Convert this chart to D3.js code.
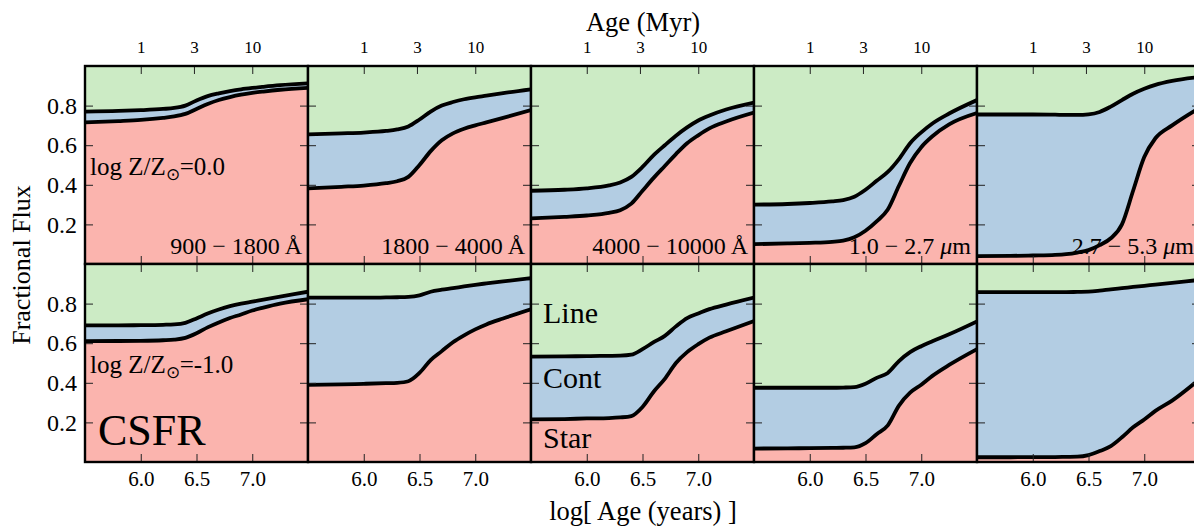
<!DOCTYPE html>
<html>
<head>
<meta charset="utf-8">
<script src="https://cdn.jsdelivr.net/npm/d3@7"></script>
<style>
  body { margin: 0; background: #fff; }
  svg { display: block; }
  svg text { font-family: "Liberation Serif", "Times New Roman", Tinos, serif !important; }
</style>
</head>
<body>
<svg id="chart" width="1194" height="531" font-family="Liberation Serif"></svg>
<script>
// Sample grid in log10(age / yr)
const logAge = [5.5, 5.8, 6.0, 6.2, 6.3, 6.4, 6.5, 6.6, 6.7, 6.8, 6.9, 7.0, 7.1, 7.25, 7.5];

const bandLabels = [
  ["900 \u2212 1800\u2009\u00c5"],
  ["1800 \u2212 4000\u2009\u00c5"],
  ["4000 \u2212 10000\u2009\u00c5"],
  ["1.0 \u2212 2.7 ", "\u03bc", "m"],
  ["2.7 \u2212 5.3 ", "\u03bc", "m"]
];
const metallicityLabels = ["=0.0", "=-1.0"];
const yTickValues = [0.2, 0.4, 0.6, 0.8];
const yTickLabels = ["0.2", "0.4", "0.6", "0.8"];
const logAgeTicks = [6.0, 6.5, 7.0];
const logAgeTickLabels = ["6.0", "6.5", "7.0"];
const ageMyrTicks = [1, 3, 10];
const ageMyrTickLabels = ["1", "3", "10"];
const componentLabels = ["Line", "Cont", "Star"];

// log Z/Zsun = 0.0 : stellar fraction and stellar+continuum fraction per band
const starZ0Band1 = [0.715, 0.722, 0.728, 0.738, 0.745, 0.758, 0.783, 0.808, 0.828, 0.843, 0.855, 0.864, 0.871, 0.880, 0.890];
const contZ0Band1 = [0.770, 0.773, 0.777, 0.783, 0.788, 0.800, 0.826, 0.848, 0.862, 0.873, 0.882, 0.889, 0.895, 0.903, 0.912];
const starZ0Band2 = [0.382, 0.390, 0.396, 0.408, 0.418, 0.440, 0.500, 0.570, 0.625, 0.660, 0.683, 0.700, 0.715, 0.738, 0.778];
const contZ0Band2 = [0.655, 0.660, 0.664, 0.672, 0.680, 0.695, 0.730, 0.770, 0.800, 0.818, 0.832, 0.842, 0.850, 0.863, 0.882];
const starZ0Band3 = [0.230, 0.238, 0.245, 0.258, 0.272, 0.305, 0.370, 0.435, 0.495, 0.555, 0.610, 0.650, 0.685, 0.720, 0.765];
const contZ0Band3 = [0.370, 0.375, 0.382, 0.397, 0.412, 0.440, 0.490, 0.550, 0.600, 0.648, 0.690, 0.725, 0.750, 0.780, 0.815];
const starZ0Band4 = [0.100, 0.104, 0.107, 0.112, 0.118, 0.135, 0.168, 0.215, 0.275, 0.395, 0.510, 0.590, 0.645, 0.705, 0.762];
const contZ0Band4 = [0.300, 0.303, 0.308, 0.316, 0.323, 0.340, 0.375, 0.420, 0.465, 0.530, 0.610, 0.665, 0.710, 0.760, 0.828];
const starZ0Band5 = [0.040, 0.041, 0.043, 0.046, 0.050, 0.058, 0.070, 0.095, 0.130, 0.200, 0.370, 0.540, 0.635, 0.700, 0.790];
const contZ0Band5 = [0.755, 0.755, 0.755, 0.754, 0.753, 0.753, 0.756, 0.768, 0.795, 0.828, 0.860, 0.885, 0.905, 0.925, 0.945];

// log Z/Zsun = -1.0
const starZm1Band1 = [0.610, 0.611, 0.612, 0.615, 0.618, 0.627, 0.650, 0.680, 0.705, 0.727, 0.745, 0.765, 0.780, 0.800, 0.822];
const contZm1Band1 = [0.690, 0.690, 0.691, 0.693, 0.695, 0.703, 0.725, 0.750, 0.770, 0.787, 0.800, 0.810, 0.820, 0.835, 0.860];
const starZm1Band2 = [0.390, 0.392, 0.395, 0.398, 0.400, 0.408, 0.450, 0.515, 0.560, 0.605, 0.640, 0.670, 0.695, 0.725, 0.771];
const contZm1Band2 = [0.830, 0.830, 0.830, 0.831, 0.832, 0.834, 0.842, 0.860, 0.870, 0.878, 0.887, 0.895, 0.902, 0.912, 0.928];
const starZm1Band3 = [0.215, 0.217, 0.220, 0.222, 0.225, 0.232, 0.278, 0.355, 0.420, 0.500, 0.555, 0.595, 0.628, 0.660, 0.712];
const contZm1Band3 = [0.532, 0.533, 0.535, 0.536, 0.537, 0.542, 0.570, 0.605, 0.637, 0.685, 0.727, 0.750, 0.772, 0.795, 0.830];
const starZm1Band4 = [0.068, 0.069, 0.070, 0.071, 0.072, 0.074, 0.095, 0.140, 0.185, 0.285, 0.350, 0.390, 0.435, 0.490, 0.570];
const contZm1Band4 = [0.375, 0.375, 0.375, 0.375, 0.376, 0.378, 0.395, 0.425, 0.450, 0.510, 0.555, 0.585, 0.610, 0.645, 0.710];
const starZm1Band5 = [0.024, 0.024, 0.025, 0.025, 0.026, 0.027, 0.035, 0.055, 0.080, 0.125, 0.175, 0.215, 0.258, 0.310, 0.420];
const contZm1Band5 = [0.858, 0.858, 0.858, 0.858, 0.858, 0.859, 0.860, 0.865, 0.872, 0.878, 0.884, 0.890, 0.896, 0.905, 0.920];

const rows = [
  [[starZ0Band1, contZ0Band1], [starZ0Band2, contZ0Band2], [starZ0Band3, contZ0Band3], [starZ0Band4, contZ0Band4], [starZ0Band5, contZ0Band5]],
  [[starZm1Band1, contZm1Band1], [starZm1Band2, contZm1Band2], [starZm1Band3, contZm1Band3], [starZm1Band4, contZm1Band4], [starZm1Band5, contZm1Band5]]
];

const colors = { line: "#ccebc5", cont: "#b3cde3", star: "#fbb4ae" };
const textFont = "Liberation Serif";

const gridLeft = 85, gridTop = 66, panelW = 223, panelH = 198;

const svg = d3.select("#chart");
svg.append("rect").attr("width", 1194).attr("height", 531).attr("fill", "#fff");

const x = d3.scaleLinear().domain([5.5, 7.5]).range([0, panelW]);
const y = d3.scaleLinear().domain([0, 1]).range([panelH, 0]);
const curve = d3.curveMonotoneX;

svg.append("defs").append("clipPath").attr("id", "panel-clip")
  .append("rect").attr("width", panelW).attr("height", panelH);

function styleAxis(g, size) {
  g.attr("font-family", textFont).attr("font-size", size || 20);
  g.select(".domain").remove();
  g.selectAll(".tick line").attr("stroke", "#222").attr("stroke-width", 1);
  g.selectAll(".tick text").attr("font-family", textFont).attr("fill", "#000");
}

function addText(parent, px, py, size, str) {
  return parent.append("text").attr("x", px).attr("y", py)
    .attr("font-family", textFont).attr("font-size", size).attr("fill", "#000").text(str);
}

rows.forEach((row, r) => {
  row.forEach(([star, cont], c) => {
    const g = svg.append("g")
      .attr("transform", `translate(${gridLeft + c * panelW},${gridTop + r * panelH})`);
    const body = g.append("g").attr("clip-path", "url(#panel-clip)");
    const pts = logAge.map((a, i) => ({ a, s: star[i], t: cont[i] }));

    body.append("rect").attr("width", panelW).attr("height", panelH).attr("fill", colors.line);
    body.append("path").datum(pts).attr("fill", colors.cont)
      .attr("d", d3.area().curve(curve).x(d => x(d.a)).y0(y(0)).y1(d => y(d.t)));
    body.append("path").datum(pts).attr("fill", colors.star)
      .attr("d", d3.area().curve(curve).x(d => x(d.a)).y0(y(0)).y1(d => y(d.s)));
    [d => d.s, d => d.t].forEach(acc => {
      body.append("path").datum(pts)
        .attr("fill", "none").attr("stroke", "#000").attr("stroke-width", 3.8)
        .attr("stroke-linejoin", "round")
        .attr("d", d3.line().curve(curve).x(d => x(d.a)).y(d => y(acc(d))));
    });

    // inward ticks on all four sides
    const yl = g.append("g").call(d3.axisLeft(y).tickValues(yTickValues).tickSize(-8).tickPadding(8)
      .tickFormat((d, i) => c === 0 ? yTickLabels[i] : ""));
    styleAxis(yl, 24);
    const yr = g.append("g").attr("transform", `translate(${panelW},0)`)
      .call(d3.axisRight(y).tickValues(yTickValues).tickSize(-8).tickFormat(""));
    styleAxis(yr);

    const xb = g.append("g").attr("transform", `translate(0,${panelH})`)
      .call(d3.axisBottom(x).tickValues(logAgeTicks).tickSize(-8).tickPadding(9)
        .tickFormat((d, i) => r === 1 ? logAgeTickLabels[i] : ""));
    styleAxis(xb, 21);

    if (r === 0) {
      const xt = g.append("g")
        .call(d3.axisTop(x).tickValues(ageMyrTicks.map(m => Math.log10(m * 1e6))).tickSize(-8).tickPadding(13)
          .tickFormat((d, i) => ageMyrTickLabels[i]));
      styleAxis(xt, 17);

      // wavelength band label
      const bl = bandLabels[c];
      const bt = addText(g, panelW - 6, panelH - 10, 24, null).attr("text-anchor", "end");
      bt.append("tspan").text(bl[0]);
      if (bl.length > 1) {
        bt.append("tspan").attr("font-style", "italic").text(bl[1]);
        bt.append("tspan").text(bl[2]);
      }
    } else {
      const xt = g.append("g")
        .call(d3.axisTop(x).tickValues(logAgeTicks).tickSize(-8).tickFormat(""));
      styleAxis(xt);
    }

    g.append("rect").attr("width", panelW).attr("height", panelH)
      .attr("fill", "none").attr("stroke", "#000").attr("stroke-width", 2.4);
  });
});

// metallicity labels in the first column
metallicityLabels.forEach((lab, r) => {
  const t = addText(svg, 90, r === 0 ? 175 : 373, 25, null);
  t.append("tspan").text("log Z/Z");
  t.append("tspan").attr("font-size", 17).attr("dy", 5).text("\u2299");
  t.append("tspan").attr("dy", -5).text(lab);
});

addText(svg, 98, 445, 44, "CSFR");

// component labels in the middle lower panel
const compY = [323, 388, 448];
componentLabels.forEach((lab, i) => addText(svg, 543, compY[i], 30, lab));

// axis titles
addText(svg, 643, 31, 26.5, "Age (Myr)").attr("text-anchor", "middle");
addText(svg, 643, 520, 26.5, "log[ Age (years) ]").attr("text-anchor", "middle");
addText(svg, 0, 0, 26, "Fractional Flux").attr("text-anchor", "middle")
  .attr("transform", "translate(30,265) rotate(-90)");
</script>
</body>
</html>
